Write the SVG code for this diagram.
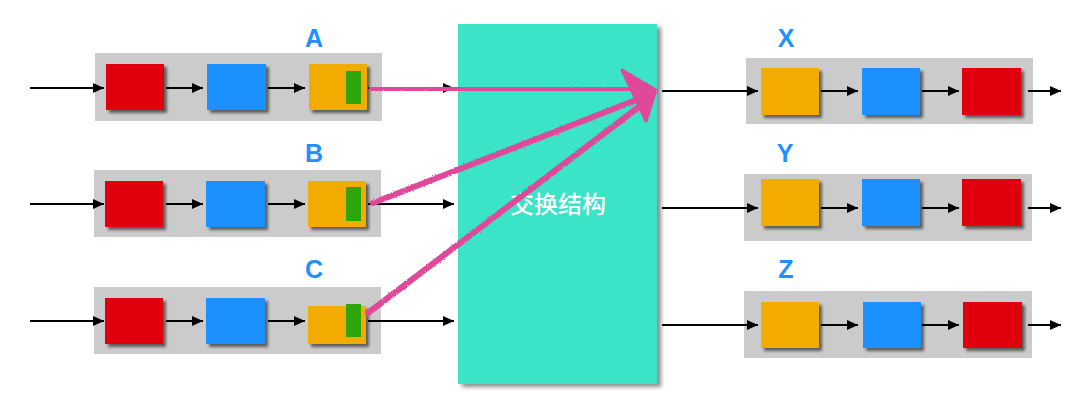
<svg xmlns="http://www.w3.org/2000/svg" width="1080" height="402" viewBox="0 0 1080 402">
<style>
.tray{fill:#cbcbcb}
.r{fill:#e0000b}
.b{fill:#1e90ff}
.o{fill:#f2ab00}
.g{fill:#2ea50a}
.box{filter:url(#sh)}
.lbl{font-family:"Liberation Sans",Arial,sans-serif;font-weight:bold;font-size:25px;fill:#1e90ff;text-anchor:middle}
.ln{stroke:#000;stroke-width:2;fill:none;marker-end:url(#ah)}
.pk{stroke:#e0489a;stroke-width:6;fill:none;stroke-linecap:round;filter:url(#rough)}
</style>
<defs>
<marker id="ah" markerWidth="12" markerHeight="12" refX="11" refY="5.5" orient="auto" markerUnits="userSpaceOnUse">
<path d="M0,0.5 L11,5.5 L0,10.5 Z" fill="#000"/>
</marker>
<filter id="sh" x="-20%" y="-20%" width="150%" height="150%">
<feDropShadow dx="3" dy="3" stdDeviation="1.5" flood-color="#000" flood-opacity="0.55"/>
</filter>
<filter id="sh2" x="-10%" y="-10%" width="120%" height="120%">
<feDropShadow dx="4" dy="3" stdDeviation="2" flood-color="#000" flood-opacity="0.45"/>
</filter>
<filter id="rough" x="-10%" y="-10%" width="120%" height="120%">
<feTurbulence type="fractalNoise" baseFrequency="0.9" numOctaves="2" result="n"/>
<feDisplacementMap in="SourceGraphic" in2="n" scale="2.5"/>
</filter>
</defs>

<g id="switch">
<rect x="458" y="24" width="199" height="360" fill="#3ae4c6" filter="url(#sh2)"/>
<text x="558" y="213" font-family="'Noto Sans CJK SC',sans-serif" font-size="24" font-weight="500" fill="#fff" text-anchor="middle">交换结构</text>
</g>

<g id="queueA">
<rect class="tray" x="95" y="53" width="287" height="68"/>
<rect class="r box" x="106" y="64" width="58" height="46"/>
<rect class="b box" x="207" y="64" width="59" height="46"/>
<rect class="o box" x="309" y="64" width="58" height="46"/>
<rect class="g" x="346" y="71" width="15" height="33"/>
<text class="lbl" x="314" y="47">A</text>
</g>
<g id="queueB">
<rect class="tray" x="94" y="170" width="287" height="67"/>
<rect class="r box" x="105" y="181" width="58" height="46"/>
<rect class="b box" x="206" y="181" width="59" height="46"/>
<rect class="o box" x="308" y="181" width="58" height="46"/>
<rect class="g" x="346" y="187" width="15" height="34"/>
<text class="lbl" x="314" y="162">B</text>
</g>
<g id="queueC">
<rect class="tray" x="94" y="287" width="287" height="67"/>
<rect class="r box" x="105" y="298" width="58" height="46"/>
<rect class="b box" x="206" y="298" width="59" height="46"/>
<rect class="o box" x="308" y="306" width="58" height="38"/>
<rect class="g" x="346" y="304" width="15" height="33"/>
<text class="lbl" x="314" y="278">C</text>
</g>

<g id="queueX">
<rect class="tray" x="746" y="58" width="287" height="66"/>
<rect class="o box" x="761" y="68" width="58" height="47"/>
<rect class="b box" x="862" y="68" width="58" height="47"/>
<rect class="r box" x="962" y="68" width="59" height="47"/>
<text class="lbl" x="786" y="47">X</text>
</g>
<g id="queueY">
<rect class="tray" x="744" y="174" width="288" height="67"/>
<rect class="o box" x="761" y="179" width="58" height="47"/>
<rect class="b box" x="862" y="179" width="58" height="47"/>
<rect class="r box" x="962" y="179" width="59" height="47"/>
<text class="lbl" x="785" y="162">Y</text>
</g>
<g id="queueZ">
<rect class="tray" x="744" y="291" width="288" height="67"/>
<rect class="o box" x="761" y="302" width="58" height="46"/>
<rect class="b box" x="863" y="302" width="58" height="46"/>
<rect class="r box" x="963" y="302" width="59" height="46"/>
<text class="lbl" x="786" y="278">Z</text>
</g>

<g id="connectors">
<line class="ln" x1="30" y1="88" x2="104" y2="88"/>
<line class="ln" x1="166" y1="88" x2="203" y2="88"/>
<line class="ln" x1="268" y1="88" x2="305" y2="88"/>
<line class="ln" x1="368" y1="88" x2="454" y2="88"/>
<line class="ln" x1="30" y1="204" x2="104" y2="204"/>
<line class="ln" x1="166" y1="204" x2="203" y2="204"/>
<line class="ln" x1="268" y1="204" x2="305" y2="204"/>
<line class="ln" x1="368" y1="204" x2="454" y2="204"/>
<line class="ln" x1="30" y1="321" x2="104" y2="321"/>
<line class="ln" x1="166" y1="321" x2="203" y2="321"/>
<line class="ln" x1="268" y1="321" x2="305" y2="321"/>
<line class="ln" x1="368" y1="321" x2="454" y2="321"/>

<line class="ln" x1="662" y1="91" x2="758" y2="91"/>
<line class="ln" x1="821" y1="91" x2="858" y2="91"/>
<line class="ln" x1="922" y1="91" x2="959" y2="91"/>
<line class="ln" x1="1028" y1="91" x2="1061" y2="91"/>
<line class="ln" x1="662" y1="208" x2="758" y2="208"/>
<line class="ln" x1="821" y1="208" x2="858" y2="208"/>
<line class="ln" x1="922" y1="208" x2="959" y2="208"/>
<line class="ln" x1="1028" y1="208" x2="1061" y2="208"/>
<line class="ln" x1="662" y1="325" x2="758" y2="325"/>
<line class="ln" x1="821" y1="325" x2="858" y2="325"/>
<line class="ln" x1="922" y1="325" x2="959" y2="325"/>
<line class="ln" x1="1028" y1="325" x2="1061" y2="325"/>
</g>

<g id="pink-arrows">
<path class="pk" d="M372,88 L628,90"/>
<path class="pk" d="M373,203 L636,100"/>
<path class="pk" d="M368,313 L640,106"/>
<path d="M622,70 L656,90 L646,121 Z" fill="#e0489a" stroke="#e0489a" stroke-width="3" stroke-linejoin="round" filter="url(#rough)"/>
</g>
</svg>
